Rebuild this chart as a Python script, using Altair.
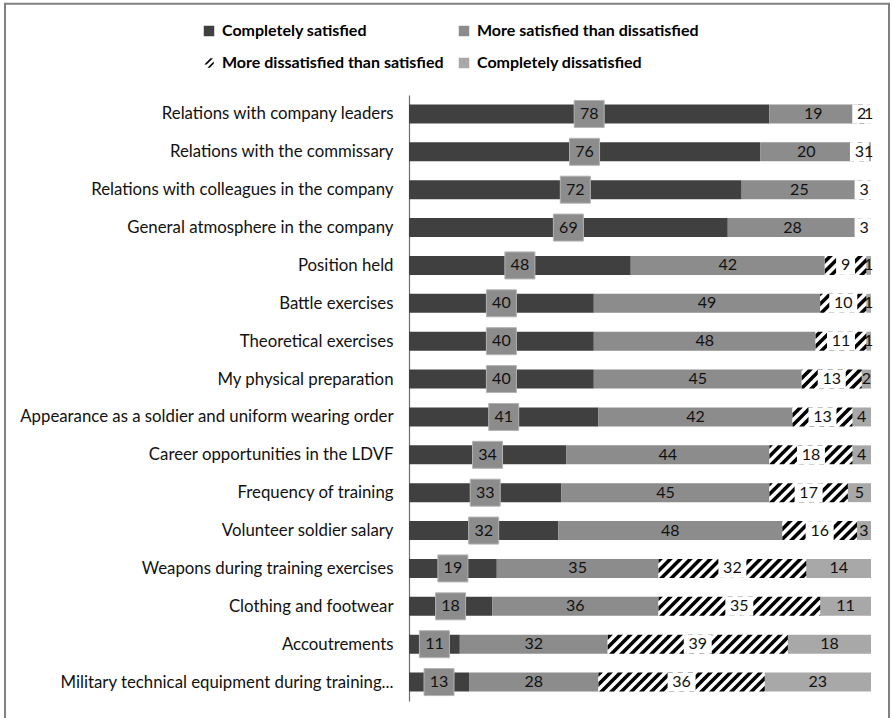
import json
import math
import altair as alt
import pandas as pd

# ---------------- data ----------------
categories = [
    "Relations with company leaders",
    "Relations with the commissary",
    "Relations with colleagues in the company",
    "General atmosphere in the company",
    "Position held",
    "Battle exercises",
    "Theoretical exercises",
    "My physical preparation",
    "Appearance as a soldier and uniform wearing order",
    "Career opportunities in the LDVF",
    "Frequency of training",
    "Volunteer soldier salary",
    "Weapons during training exercises",
    "Clothing and footwear",
    "Accoutrements",
    "Military technical equipment during training...",
]
completely_satisfied = [78, 76, 72, 69, 48, 40, 40, 40, 41, 34, 33, 32, 19, 18, 11, 13]
more_satisfied = [19, 20, 25, 28, 42, 49, 48, 45, 42, 44, 45, 48, 35, 36, 32, 28]
more_dissatisfied = [2, 3, 3, 3, 9, 10, 11, 13, 13, 18, 17, 16, 32, 35, 39, 36]
completely_dissatisfied = [1, 1, 0, 0, 1, 1, 1, 2, 4, 4, 5, 3, 14, 11, 18, 23]
series_names = [
    "Completely satisfied",
    "More satisfied than dissatisfied",
    "More dissatisfied than satisfied",
    "Completely dissatisfied",
]

# ---------------- styles / layout ----------------
series_fill = ["#404040", "#8c8c8c", "#ffffff", "#a8a8a8"]
legend_colors = ["#404040", "#8c8c8c", "#000000", "#a8a8a8"]
HATCH_ICON = ("M-0.9,0.3L0.3,-0.9L0.75,-0.9L-0.45,0.3Z "
              "M-0.3,0.9L0.9,-0.3L0.9,0.15L0.15,0.9Z")
legend_shapes = ["square", "square", HATCH_ICON, "square"]

W, H = 462, 606
LEFT, TOP = 409, 95
N = len(categories)
PXU = W / 100.0          # px per percent
ROW_PX = H / N           # px per row
HALF = 0.25              # half bar thickness in row units
BAR_PX = 2 * HALF * ROW_PX
FONT = "Lato"

# ---------------- build tables ----------------
series = [completely_satisfied, more_satisfied, more_dissatisfied, completely_dissatisfied]
seg_rows = []
for i in range(N):
    vals = [s[i] for s in series]
    tot = float(sum(vals))
    cum = 0.0
    for j, v in enumerate(vals):
        start = cum / tot * 100
        cum += v
        end = cum / tot * 100
        seg_rows.append(dict(row=i, cat=series_names[j], sidx=j, value=v,
                             start=start, end=end, mid=(start + end) / 2,
                             top=i - HALF, bot=i + HALF, fillc=series_fill[j]))
seg = pd.DataFrame(seg_rows)

# hatch stripes ("/"), drawn as clipped parallelograms
P, T = 10.0, 5.0
stripe_rows = []
sid = 0
for r in seg[(seg.sidx == 2) & (seg.value > 0)].itertuples():
    xs, xe = r.start * PXU, r.end * PXU
    k = math.floor((xs - BAR_PX - T) / P) * P
    while k < xe:
        lo, hi = max(k, xs), min(k + BAR_PX + T, xe)
        if hi > lo:
            pts = {lo, hi}
            for b in (k, k + T, k + BAR_PX, k + BAR_PX + T):
                if lo < b < hi:
                    pts.add(b)
            for X in sorted(pts):
                ylow = max(0.0, X - k - T)
                yhigh = min(BAR_PX, X - k)
                stripe_rows.append(dict(sid=sid, x=X / PXU,
                                        ytop=r.row + HALF - yhigh / ROW_PX,
                                        ybot=r.row + HALF - ylow / ROW_PX))
            sid += 1
        k += P
stripes = pd.DataFrame(stripe_rows)

labels = seg[seg.value > 0].copy()
labels["txt"] = labels.value.astype(str)

def box_path(width_px, height_px, span):
    hw, hh = width_px / span, height_px / span
    return f"M{-hw:.3f},{-hh:.3f}L{hw:.3f},{-hh:.3f}L{hw:.3f},{hh:.3f}L{-hw:.3f},{hh:.3f}Z"

white_boxes = labels[labels.sidx == 2].copy()
white_boxes["shp"] = [box_path(19 if v < 10 else 28, BAR_PX, 40) for v in white_boxes.value]
gray_boxes = labels[labels.sidx == 0].copy()

# ---------------- chart ----------------
xs_ = alt.Scale(domain=[0, 100], nice=False, zero=False)
ys_ = alt.Scale(domain=[-0.5, N - 0.5], reverse=True, nice=False, zero=False)
label_expr = json.dumps(categories) + "[datum.value]"

bars = alt.Chart(seg).mark_rect(strokeWidth=0).encode(
    x=alt.X("start:Q", scale=xs_, axis=None),
    x2="end:Q",
    y=alt.Y("top:Q", scale=ys_, axis=alt.Axis(
        values=list(range(N)), labelExpr=label_expr, ticks=False, grid=False,
        title=None, domainColor="#6e6e6e", domainWidth=1.2, labelFont=FONT,
        labelFontSize=16.8, labelColor="#111111", labelPadding=16, labelLimit=0)),
    y2="bot:Q",
    fill=alt.Fill("fillc:N", scale=None),
)

hatch = alt.Chart(stripes).mark_area(orient="vertical", color="#000000", interpolate="linear").encode(
    x=alt.X("x:Q", scale=xs_),
    y=alt.Y("ytop:Q", scale=ys_, stack=None),
    y2="ybot:Q",
    detail="sid:N",
)

wbox = alt.Chart(white_boxes).mark_point(filled=True, fill="#ffffff", opacity=1, size=1600, strokeWidth=0).encode(
    x=alt.X("mid:Q", scale=xs_),
    y=alt.Y("row:Q", scale=ys_),
    shape=alt.Shape("shp:N", scale=None),
)

gbox = alt.Chart(gray_boxes).mark_point(
    filled=True, fill="#8c8c8c", opacity=1, size=900,
    shape="M-1,-0.9L1,-0.9L1,0.9L-1,0.9Z", stroke="#b4b4b4", strokeWidth=1,
).encode(
    x=alt.X("mid:Q", scale=xs_),
    y=alt.Y("row:Q", scale=ys_),
)

text = alt.Chart(labels).mark_text(font=FONT, fontSize=16, color="#111111",
                                   align="center", baseline="middle").encode(
    x=alt.X("mid:Q", scale=xs_),
    y=alt.Y("row:Q", scale=ys_),
    text="txt:N",
)

leg = alt.Legend(title=None, orient="none", legendX=-208, legendY=-72, columns=2,
                 direction="horizontal", labelFont=FONT, labelFontSize=16,
                 labelFontWeight="bold", labelColor="#000000", symbolSize=110,
                 symbolStrokeWidth=0, labelOffset=5, rowPadding=16, columnPadding=12,
                 labelLimit=0)
legend_df = pd.DataFrame({"cat": series_names})
legend_layer = alt.Chart(legend_df).mark_point(filled=True, opacity=1).encode(
    color=alt.Color("cat:N", scale=alt.Scale(domain=series_names, range=legend_colors), legend=leg),
    shape=alt.Shape("cat:N", scale=alt.Scale(domain=series_names, range=legend_shapes), legend=leg),
).transform_filter("datum.cat == 'none'")

frame = alt.Chart(pd.DataFrame({"a": [0]})).mark_rect(
    fillOpacity=0, stroke="#808080", strokeWidth=2).encode(
    x=alt.value(5 - LEFT), x2=alt.value(889 - LEFT), y=alt.value(3.7 - TOP), y2=alt.value(760 - TOP))

chart = alt.layer(frame, bars, hatch, wbox, gbox, text, legend_layer).properties(
    width=W, height=H,
    autosize=alt.AutoSizeParams(type="none"),
    padding={"left": LEFT, "top": TOP, "right": 892 - LEFT - W, "bottom": 718 - TOP - H},
    background="white",
).configure_view(stroke=None)

chart.save("out.html", embed_options={"renderer": "svg", "actions": False})
